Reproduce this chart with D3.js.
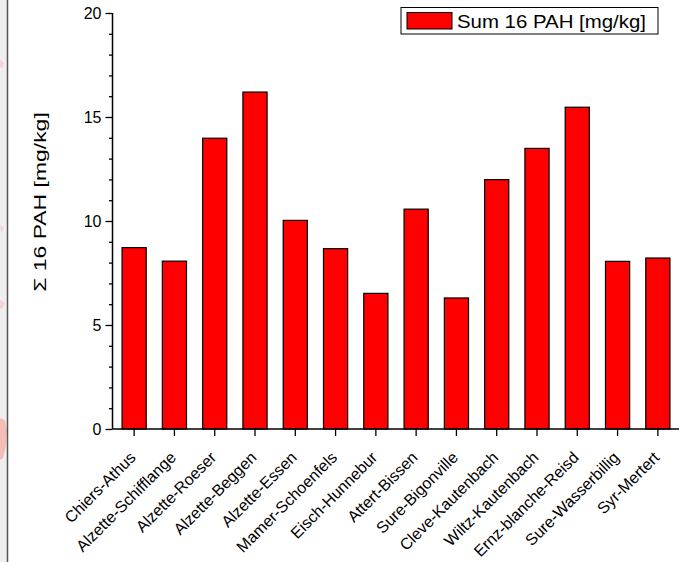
<!DOCTYPE html>
<html>
<head>
<meta charset="utf-8">
<script src="https://cdn.jsdelivr.net/npm/d3@7"></script>
<style>
  html, body { margin: 0; padding: 0; background: #fff; }
  svg { display: block; font-family: Arial, "Liberation Sans", sans-serif; }
</style>
</head>
<body>
<svg id="chart" width="679" height="562"></svg>
<script>
// Sampling sites along the rivers
const sites = [
  "Chiers-Athus", "Alzette-Schifflange", "Alzette-Roeser", "Alzette-Beggen",
  "Alzette-Essen", "Mamer-Schoenfels", "Eisch-Hunnebur", "Attert-Bissen",
  "Sure-Bigonville", "Cleve-Kautenbach", "Wiltz-Kautenbach", "Ernz-blanche-Reisd",
  "Sure-Wasserbillig", "Syr-Mertert"
];
// Sum of the 16 EPA PAHs per site [mg/kg]
const pahSum = [8.72, 8.07, 13.98, 16.20, 10.03, 8.67, 6.52, 10.57, 6.30, 11.99, 13.49, 15.47, 8.06, 8.22];
const yTicks = [0, 5, 10, 15, 20];
const seriesName = "Sum 16 PAH [mg/kg]";
const yTitle = "\u03A3 16 PAH [mg/kg]";

const svg = d3.select("#chart");

// narrow grey margin strip on the left edge
svg.append("rect").attr("x", 0).attr("y", 0).attr("width", 7).attr("height", 562).attr("fill", "#efefef");
svg.append("path").attr("d", "M0,418 L5,420 L7,430 L6,446 L3,458 L0,460 Z").attr("fill", "#f6a9a0").attr("opacity", 0.7);
svg.append("path").attr("d", "M0,60 L4,63 L2,68 L0,67 Z").attr("fill", "#f4b8b0").attr("opacity", 0.5);
svg.append("path").attr("d", "M0,225 L4,228 L1,232 Z").attr("fill", "#f4b8b0").attr("opacity", 0.5);
svg.append("path").attr("d", "M0,300 L5,303 L2,309 L0,308 Z").attr("fill", "#f4b8b0").attr("opacity", 0.5);
svg.append("line").attr("x1", 7.5).attr("x2", 7.5).attr("y1", 0).attr("y2", 562)
  .attr("stroke", "#555").attr("stroke-width", 1.5);

const x = d3.scaleBand().domain(sites).range([114, 678]).paddingInner(0.4).paddingOuter(0.2);
const y = d3.scaleLinear().domain([0, 20]).range([429, 13]);
const x0 = 112.5, xEnd = 679;

// bars
svg.append("g").selectAll("rect").data(sites).join("rect")
  .attr("x", d => x(d))
  .attr("y", (d, i) => y(pahSum[i]))
  .attr("width", x.bandwidth())
  .attr("height", (d, i) => y(0) - y(pahSum[i]))
  .attr("fill", "#ff0000")
  .attr("stroke", "#000")
  .attr("stroke-width", 1.2);

// y axis with minor ticks
const yAxis = svg.append("g").attr("transform", `translate(${x0},0)`);
yAxis.call(d3.axisLeft(y).tickValues(d3.range(0, 21, 1)).tickSize(3.5).tickFormat(""));
yAxis.call(g => g.selectAll(".tick").filter(d => yTicks.includes(d)).select("line").attr("x2", -7));
yAxis.selectAll(".tick").filter(d => yTicks.includes(d)).append("text")
  .attr("x", -11).attr("dy", "0.36em").attr("fill", "#000")
  .attr("text-anchor", "end").attr("font-size", 16).text(d => d);
yAxis.select(".domain").attr("d", `M0,${y(20)}V${y(0)}`).attr("stroke-width", 1.5);
yAxis.selectAll(".tick line").attr("stroke-width", 1.3);
yAxis.attr("font-family", null).attr("font-size", null);

// x axis
const xAxis = svg.append("g").attr("transform", `translate(0,${y(0)})`);
xAxis.call(d3.axisBottom(x).tickSize(7).tickFormat(""));
xAxis.select(".domain").attr("d", `M${x0},0H${xEnd}`).attr("stroke-width", 1.5);
xAxis.selectAll(".tick line").attr("stroke-width", 1.3);
xAxis.selectAll(".tick").append("text")
  .attr("transform", "translate(2.5,29.5) rotate(-45)")
  .attr("text-anchor", "end").attr("fill", "#000").attr("font-size", 16)
  .text(d => d);
xAxis.attr("font-family", null).attr("font-size", null);

// y axis title (glyphs widened along the text direction)
svg.append("text")
  .attr("transform", `translate(46,${(y(0) + y(20)) / 2 - 19}) rotate(-90) scale(1.35,1)`)
  .attr("text-anchor", "middle").attr("font-size", 17).attr("fill", "#000")
  .text(yTitle);

// legend
const lg = svg.append("g");
lg.append("rect").attr("x", 401).attr("y", 7.5).attr("width", 257).attr("height", 26.5)
  .attr("fill", "#fff").attr("stroke", "#000").attr("stroke-width", 1);
lg.append("rect").attr("x", 407).attr("y", 12.5).attr("width", 45).attr("height", 16.5)
  .attr("fill", "#ff0000").attr("stroke", "#000").attr("stroke-width", 1);
lg.append("text").attr("x", 457).attr("y", 28).attr("font-size", 19).attr("fill", "#000")
  .attr("textLength", 189).attr("lengthAdjust", "spacingAndGlyphs")
  .text(seriesName);
</script>
</body>
</html>
